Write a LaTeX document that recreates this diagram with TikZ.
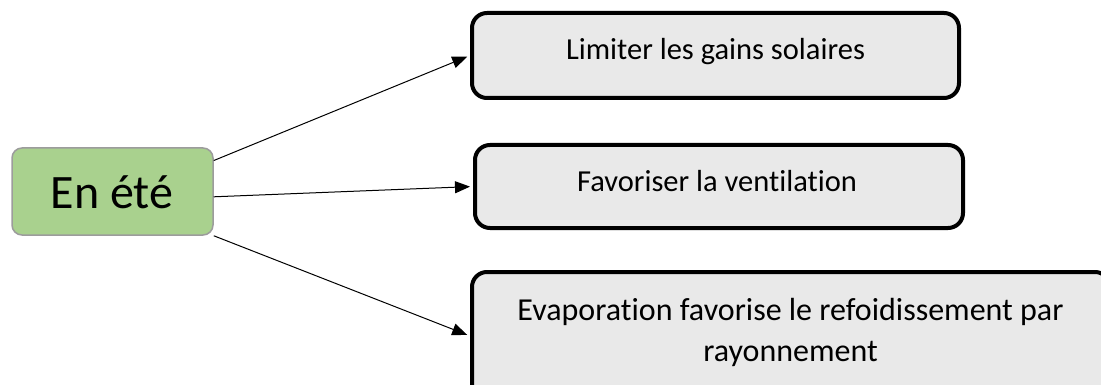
\documentclass[tikz,border=0pt]{standalone}
\usepackage{fontspec}
\setmainfont[Ligatures=NoCommon]{Carlito}
\usetikzlibrary{arrows.meta}
\definecolor{leafgreen}{HTML}{A9D18E}
\definecolor{leafedge}{HTML}{9C9C9C}
\definecolor{panelgray}{HTML}{E9E9E9}
\tikzset{
  season/.style={draw=leafedge, line width=1.5pt, fill=leafgreen, rounded corners=10pt,
    minimum width=201pt, minimum height=87pt, inner sep=0pt},
  goal/.style={draw=black, line width=4pt, fill=panelgray, rounded corners=15pt, inner sep=0pt},
  caption/.style={anchor=base, inner sep=0pt, align=center},
  link/.style={line width=1pt, -{Triangle[length=15pt,width=12pt]}, shorten >=3pt}
}
\begin{document}
\begin{tikzpicture}[x=1pt,y=-1pt]
\useasboundingbox (0,0) rectangle (1101,385);
\clip (0,0) rectangle (1101,385);
% boxes
\node[season] (ete) at (112.5,191.5) {};
\node[goal, minimum width=487pt, minimum height=85pt] (gains) at (715.5,55.5) {};
\node[goal, minimum width=488pt, minimum height=83pt] (vent) at (719,186.5) {};
\node[goal, minimum width=638pt, minimum height=128pt] (evap) at (791,336) {};
% texts
\node[caption, font=\fontsize{48}{58}\selectfont] (ete-t) at (112,208) {En été};
\node[caption, font=\fontsize{30.5}{39}\selectfont] (gains-t) at (715.5,60) {Limiter les gains solaires};
\node[caption, font=\fontsize{30.5}{39}\selectfont] (vent-t) at (717,192) {Favoriser la ventilation};
\node[caption, font=\fontsize{32}{41}\selectfont] (evap-t1) at (790.5,320) {Evaporation favorise le refoidissement par};
\node[caption, font=\fontsize{32}{41}\selectfont] (evap-t2) at (790.5,361) {rayonnement};
% connectors
\draw[link] (ete.17) -- (gains.west);
\draw[link] (ete.-3) -- (vent.west);
\draw[link] (ete.south east) -- (evap.west);
\end{tikzpicture}
\end{document}
